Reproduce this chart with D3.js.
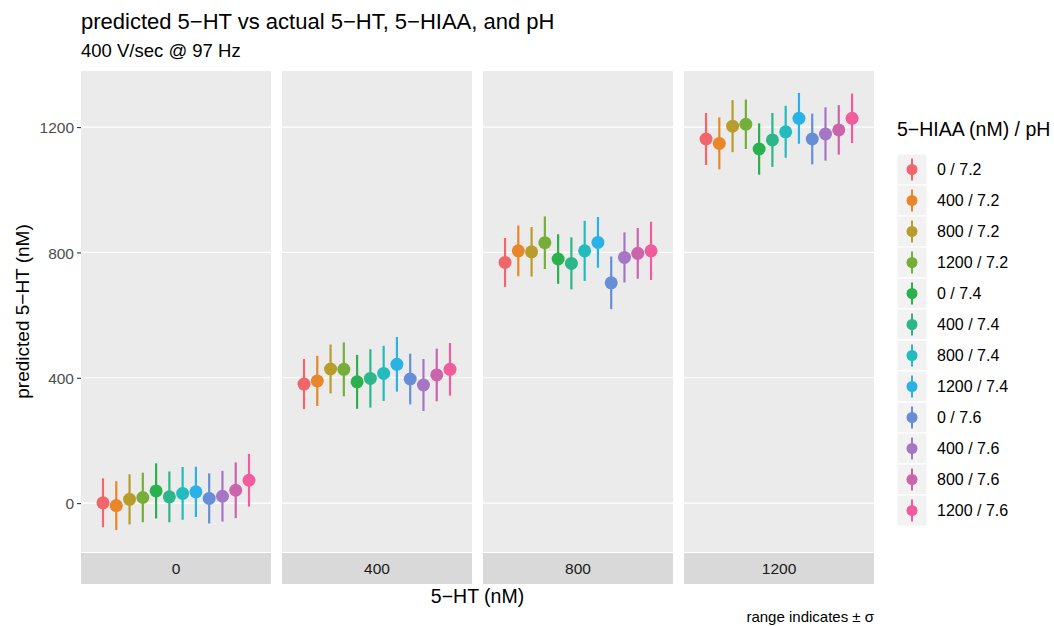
<!DOCTYPE html>
<html>
<head>
<meta charset="utf-8">
<script src="https://cdn.jsdelivr.net/npm/d3@7"></script>
<style>
  body { margin: 0; background: #fff; }
  svg { font-family: "Liberation Sans", Arial, Helvetica, sans-serif; }
</style>
</head>
<body>
<div id="graph"></div>
<script>
// facets (actual 5-HT, nM) and groups (5-HIAA / pH)
const facets = ["0", "400", "800", "1200"];
const groups = ["0 / 7.2", "400 / 7.2", "800 / 7.2", "1200 / 7.2",
                "0 / 7.4", "400 / 7.4", "800 / 7.4", "1200 / 7.4",
                "0 / 7.6", "400 / 7.6", "800 / 7.6", "1200 / 7.6"];
const colors = ["#F0666A", "#E8862A", "#B89C2C", "#76AE3A", "#2AB04C", "#2DB68A",
                "#22BCBE", "#2AB2E6", "#668ED6", "#A676C6", "#CC64AC", "#F05C9C"];

// predicted 5-HT mean and sd, one array per facet
const mean0    = [1, -8, 12, 18, 39, 20, 31, 36, 15, 22, 41, 73];
const sd0      = [78, 78, 80, 79, 88, 81, 84, 80, 80, 81, 89, 84];
const mean400  = [380, 390, 428, 427, 387, 398, 414, 443, 396, 377, 409, 427];
const sd400    = [80, 80, 78, 86, 86, 93, 88, 87, 81, 83, 84, 84];
const mean800  = [768, 805, 802, 831, 779, 765, 805, 832, 703, 784, 797, 805];
const sd800    = [78, 81, 79, 84, 79, 83, 96, 81, 84, 80, 81, 93];
const mean1200 = [1162, 1148, 1203, 1209, 1130, 1159, 1185, 1228, 1162, 1178, 1191, 1228];
const sd1200   = [83, 83, 83, 79, 82, 86, 83, 81, 81, 85, 79, 79];
const yTicks = [0, 400, 800, 1200];

const means = [mean0, mean400, mean800, mean1200];
const sds = [sd0, sd400, sd800, sd1200];
const data = [];
facets.forEach((f, i) => groups.forEach((g, j) => {
    data.push({ facet: f, group: g, mean: means[i][j], sd: sds[i][j] });
}));

const W = 1054, H = 626;
const plot = { left: 81, right: 874, top: 71, bottom: 552 };
const font = "'Liberation Sans', Arial, Helvetica, sans-serif";

const svg = d3.select("#graph").append("svg")
    .attr("width", W).attr("height", H);

// scales
const fx = d3.scaleBand().domain(facets)
    .range([plot.left, plot.right]).paddingInner(0.055);
const gx = d3.scalePoint().domain(groups).range([22, 168]);
const y = d3.scaleLinear().domain([-156, 1379]).range([plot.bottom, plot.top]);
const color = d3.scaleOrdinal().domain(groups).range(colors);

// panels
const panel = svg.selectAll("g.panel").data(facets).enter().append("g")
    .attr("class", "panel")
    .attr("transform", d => `translate(${fx(d)},0)`);

panel.append("rect")
    .attr("y", plot.top).attr("width", fx.bandwidth())
    .attr("height", plot.bottom - plot.top)
    .attr("fill", "#ebebeb");

panel.selectAll("line.grid").data(yTicks).enter().append("line")
    .attr("x1", 0).attr("x2", fx.bandwidth())
    .attr("y1", d => y(d)).attr("y2", d => y(d))
    .attr("stroke", "#fff").attr("stroke-width", 1.2);

// strips at bottom
panel.append("rect")
    .attr("y", 553).attr("width", fx.bandwidth()).attr("height", 31)
    .attr("fill", "#d9d9d9");
panel.append("text")
    .attr("x", fx.bandwidth() / 2).attr("y", 574)
    .attr("text-anchor", "middle")
    .attr("font-size", 15.5).attr("fill", "#1a1a1a")
    .text(d => d);

// point ranges
const pts = svg.append("g").selectAll("g").data(data).enter().append("g")
    .attr("transform", d => `translate(${fx(d.facet) + gx(d.group)},0)`);
pts.append("line")
    .attr("y1", d => y(d.mean - d.sd)).attr("y2", d => y(d.mean + d.sd))
    .attr("stroke", d => color(d.group)).attr("stroke-width", 2.2);
pts.append("circle")
    .attr("cy", d => y(d.mean)).attr("r", 6.5)
    .attr("fill", d => color(d.group));

// y axis
const yAxis = d3.axisLeft(y).tickValues(yTicks).tickFormat(d3.format("d"))
    .tickSize(4).tickPadding(3);
const ya = svg.append("g")
    .attr("transform", `translate(${plot.left},0)`)
    .call(yAxis);
ya.select(".domain").remove();
ya.selectAll(".tick line").attr("stroke", "#333").attr("stroke-width", 1.1);
ya.selectAll(".tick text").attr("fill", "#4d4d4d")
    .attr("font-size", 15.5).attr("dy", "0.36em")
    .style("font-family", font);

// titles
svg.append("text")
    .attr("x", plot.left).attr("y", 29)
    .attr("font-size", 22).attr("fill", "#000")
    .text("predicted 5\u2212HT vs actual 5\u2212HT, 5\u2212HIAA, and pH");
svg.append("text")
    .attr("x", plot.left).attr("y", 57)
    .attr("font-size", 18.5).attr("fill", "#000")
    .text("400 V/sec @ 97 Hz");

svg.append("text")
    .attr("transform", `translate(29, ${(plot.top + plot.bottom) / 2}) rotate(-90)`)
    .attr("text-anchor", "middle")
    .attr("font-size", 19).attr("fill", "#000")
    .text("predicted 5\u2212HT (nM)");

svg.append("text")
    .attr("x", (plot.left + plot.right) / 2).attr("y", 603)
    .attr("text-anchor", "middle")
    .attr("font-size", 19.5).attr("fill", "#000")
    .text("5\u2212HT (nM)");

svg.append("text")
    .attr("x", plot.right).attr("y", 622)
    .attr("text-anchor", "end")
    .attr("font-size", 15).attr("fill", "#000")
    .text("range indicates \u00b1 \u03c3");

// legend
const legend = svg.append("g").attr("transform", "translate(897,0)");
legend.append("text")
    .attr("x", 0).attr("y", 136)
    .attr("font-size", 19.5).attr("fill", "#000")
    .text("5\u2212HIAA (nM) / pH");

const keyH = 31;
const keys = legend.selectAll("g.key").data(groups).enter().append("g")
    .attr("class", "key")
    .attr("transform", (d, i) => `translate(0,${154 + i * keyH})`);
keys.append("rect")
    .attr("width", 30).attr("height", keyH)
    .attr("fill", "#f2f2f2").attr("stroke", "#fff").attr("stroke-width", 1);
keys.append("line")
    .attr("x1", 15).attr("x2", 15)
    .attr("y1", keyH / 2 - 11).attr("y2", keyH / 2 + 11)
    .attr("stroke", d => color(d)).attr("stroke-width", 2);
keys.append("circle")
    .attr("cx", 15).attr("cy", keyH / 2).attr("r", 5.5)
    .attr("fill", d => color(d));
keys.append("text")
    .attr("x", 40).attr("y", keyH / 2 + 5.5)
    .attr("font-size", 16).attr("fill", "#000")
    .text(d => d);
</script>
</body>
</html>
